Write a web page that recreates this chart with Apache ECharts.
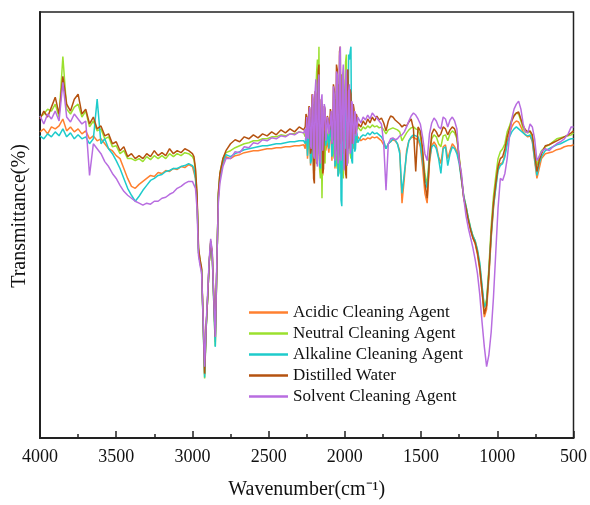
<!DOCTYPE html>
<html>
<head>
<meta charset="utf-8">
<script src="https://cdn.jsdelivr.net/npm/echarts@6/dist/echarts.min.js"></script>
<style>html,body{margin:0;padding:0;background:#fff}#c{width:590px;height:505px}</style>
</head>
<body>
<div id="c"></div>
<script>
var wavenumbers = [
4000,3975,3950,3925,3900,3875,3850,3825,3800,3775,3750,3725,3700,3675,3650,3625,3600,3575,3550,3525,3500,3475,3450,3425,3400,3375,3350,3325,3300,3275,3250,3225,3200,3175,3150,3125,3100,3075,3050,3025,3000,
2990,2980,2970,2960,2950,2940,2930,2920,2910,2900,2890,2880,2870,2860,2850,2840,2830,2820,2800,2780,
2750,2720,2690,2660,2630,2600,2570,2540,2510,2480,2450,2420,2390,2360,2330,2300,2270,
2260,2255,2250,2245,2240,2235,2230,2225,2220,2215,2210,2205,2200,2195,2190,2185,2180,2175,2170,2165,2160,2155,2150,2145,2140,2135,2130,2125,2120,2115,2110,2105,2100,2095,2090,2085,2080,2075,2070,2065,2060,2055,2050,2045,2040,2035,2030,2025,2020,2015,2010,2005,2000,1995,1990,1985,1980,1975,1970,1965,1960,1955,1950,1945,1940,1935,1930,1925,1920,1915,1910,
1895,1880,1865,1850,1835,1820,1805,1790,1775,1760,1745,1730,1715,1700,1685,1670,1655,1640,1625,1610,1595,1580,1565,1550,1535,1520,1505,1490,1475,1460,1445,1430,1415,1400,1385,1370,1355,1340,1325,1310,1295,1280,1265,
1250,1235,1220,1205,1190,1175,1160,1145,1130,1115,1100,1085,1070,1055,1040,1025,1010,995,980,965,950,935,920,905,890,875,860,845,830,815,800,785,770,755,740,725,710,685,660,635,610,585,560,535,515,500
];

var acidic = [
61.8,62.4,61.4,62.8,62.4,63.0,64.4,62.0,62.8,61.8,62.4,61.4,62.0,60.4,61.0,60.0,60.4,59.4,58.4,58.0,57.0,56.4,54.4,52.4,50.8,50.4,51.2,51.8,52.4,53.0,52.8,53.6,53.4,54.0,53.8,54.4,54.2,54.8,54.6,55.2,54.8,
54.4,52.4,48.4,37.4,35.4,34.0,24.0,12.8,22.4,28.4,35.4,39.4,37.0,28.0,19.4,34.4,48.4,52.4,55.4,56.8,
56.4,57.0,57.2,57.6,57.8,58.0,58.0,58.2,58.4,58.4,58.6,58.6,58.8,58.8,59.0,59.0,59.2,
58.4,60.6,60.0,56.4,56.8,62.0,61.2,55.0,55.4,64.4,63.4,53.4,54.0,67.0,66.4,55.4,56.0,69.0,68.4,54.0,54.4,65.0,64.4,53.0,53.4,61.0,60.4,58.0,58.4,60.0,59.6,57.6,58.0,62.0,61.4,56.0,56.4,65.4,64.4,54.4,54.8,69.4,68.4,53.0,53.4,70.4,69.4,54.0,54.4,67.4,66.4,56.0,56.4,71.0,70.4,55.0,55.4,68.0,67.4,58.0,58.4,64.0,63.4,58.4,58.8,62.0,61.4,59.6,60.0,60.8,60.4,
60.0,60.4,60.2,60.6,60.4,60.8,60.6,60.8,60.4,60.0,59.2,58.4,59.4,59.8,60.2,60.0,59.4,58.0,47.4,52.4,58.0,60.0,60.6,60.8,60.4,60.2,58.8,54.8,49.4,47.4,55.4,59.0,59.8,59.0,56.8,55.4,58.8,59.2,56.4,58.0,59.4,58.8,57.8,
56.0,52.4,48.4,46.4,44.0,42.0,40.4,39.2,37.0,34.0,29.4,24.4,26.0,32.4,40.4,46.4,50.8,54.4,55.4,55.6,57.2,59.8,61.4,62.8,63.6,64.0,63.8,62.8,61.8,61.2,60.8,61.0,59.8,56.0,52.4,54.4,56.4,57.4,57.6,57.8,58.2,58.4,58.8,59.0,59.0,59.2
];

var neutral = [
64.8,65.4,66.4,66.0,67.4,64.8,77.0,66.4,65.4,66.8,67.4,64.8,66.0,62.8,64.0,62.0,62.4,60.4,60.8,58.8,59.0,57.4,58.0,56.4,56.4,56.0,56.4,55.8,56.8,56.2,57.0,56.4,57.0,56.4,57.4,56.8,57.4,57.0,57.6,57.4,56.8,
56.2,54.0,49.0,38.0,36.0,34.0,23.4,12.0,22.0,28.4,35.4,39.4,36.8,27.4,18.6,34.4,49.4,53.4,56.4,57.6,
58.0,58.6,59.0,59.4,59.6,60.0,60.0,60.4,60.4,60.8,60.8,61.2,61.0,61.4,61.4,61.8,61.6,
60.8,61.6,62.8,59.0,58.4,64.0,64.8,57.0,56.0,66.4,67.4,55.0,54.0,68.8,70.4,74.0,76.4,60.0,79.0,54.0,52.4,62.0,48.4,60.0,64.4,56.4,55.4,63.0,62.4,59.6,60.4,62.8,62.0,60.0,60.8,63.8,64.4,57.4,56.4,67.4,68.4,55.4,54.4,70.4,71.4,54.4,53.4,72.4,73.4,53.4,52.4,69.4,70.4,76.0,77.4,56.4,55.4,67.4,68.4,57.4,56.4,64.4,65.4,60.4,59.4,62.4,63.4,61.8,61.4,62.8,62.4,
62.0,62.8,62.4,63.0,62.6,63.2,62.8,63.0,62.6,62.8,62.2,61.4,62.2,62.4,62.6,62.4,62.2,61.8,60.0,60.8,61.6,62.2,62.6,62.8,62.4,62.2,61.0,57.4,53.4,51.0,57.4,60.4,61.2,60.8,59.4,58.8,61.0,61.2,60.0,61.4,62.0,61.6,60.4,
56.8,52.8,48.8,46.8,44.4,42.4,40.8,39.8,37.8,34.8,30.4,26.4,28.0,34.4,42.8,48.8,52.8,56.4,57.8,58.4,59.4,61.8,63.0,64.4,65.2,65.6,65.4,64.0,62.4,61.8,61.6,61.8,60.8,57.8,55.0,56.8,58.0,58.8,59.2,59.8,60.4,60.6,60.8,61.0,61.2,61.6
];

var alkaline = [
61.0,60.4,61.4,60.8,61.8,61.0,62.4,60.8,61.6,60.4,61.2,60.4,60.8,59.4,60.4,68.4,59.4,60.4,58.4,57.4,56.0,54.4,52.4,50.4,49.0,47.8,48.8,50.0,51.0,52.0,52.4,53.0,53.2,53.8,54.0,54.4,54.4,54.8,55.0,55.4,55.0,
54.4,52.4,48.4,37.4,35.4,34.0,23.4,12.2,22.0,28.4,35.4,39.4,36.8,27.4,18.4,34.4,48.8,52.8,55.8,57.2,
56.8,57.4,57.8,58.2,58.4,58.6,58.8,59.0,59.0,59.2,59.4,59.4,59.6,59.8,59.8,60.0,60.0,
59.4,61.4,60.8,57.0,57.4,63.0,62.4,55.4,56.0,65.4,64.4,54.0,54.4,68.0,67.4,56.4,57.4,71.0,70.4,55.0,54.4,64.0,63.4,56.0,56.4,62.0,61.4,59.0,59.4,61.4,60.8,58.4,58.8,63.0,62.4,56.8,57.4,66.4,65.4,54.8,55.4,70.0,69.4,52.8,53.4,73.4,72.4,48.0,46.8,67.4,66.4,54.4,55.4,71.4,70.4,57.4,58.4,77.4,76.4,78.0,79.0,56.0,55.4,65.4,64.4,57.8,58.4,62.0,61.4,59.6,60.0,
60.8,61.2,61.0,61.6,61.2,61.8,61.4,61.6,61.2,60.8,60.0,58.4,59.4,59.8,60.4,60.2,59.4,57.4,49.4,53.4,57.4,60.0,60.8,61.2,61.0,60.8,59.4,56.0,52.4,50.4,56.4,58.8,59.2,58.4,56.4,53.4,58.4,58.8,55.0,57.4,58.8,58.4,57.4,
55.4,52.0,48.8,46.8,44.4,42.4,40.8,39.8,38.0,35.4,30.8,26.4,27.4,33.4,40.8,46.8,50.4,54.0,55.0,55.4,56.8,59.4,60.8,61.8,62.4,62.8,62.4,62.0,61.6,61.2,61.0,61.2,60.0,56.4,53.0,55.4,56.8,58.0,58.4,58.8,59.2,59.4,59.8,60.2,60.4,60.4
];

var distilled = [
64.4,66.0,64.8,66.8,68.8,65.4,73.0,67.4,66.0,68.4,69.4,65.4,66.4,63.4,64.8,62.4,63.0,61.0,61.4,59.4,59.8,58.0,58.8,56.8,57.4,56.4,57.0,56.4,57.4,56.8,58.0,57.0,57.6,57.0,58.4,57.4,58.0,57.6,58.4,58.0,57.4,
56.8,54.4,49.4,38.4,36.0,34.4,24.4,13.0,22.4,28.4,35.4,39.8,37.4,28.4,20.4,34.4,49.4,53.4,56.4,58.0,
59.4,60.2,59.8,60.8,60.4,61.2,60.6,61.4,61.0,61.8,61.2,62.2,61.6,62.4,61.8,62.8,62.2,
62.8,65.4,64.8,61.0,61.4,67.0,66.4,57.4,58.4,69.4,68.4,52.4,51.4,70.0,69.4,55.4,56.4,74.0,75.4,57.0,58.4,68.4,67.4,53.4,54.4,67.0,66.4,61.4,62.8,65.0,64.4,61.8,62.4,66.4,65.4,59.4,60.4,71.4,70.4,57.4,58.4,75.4,74.4,56.0,57.4,78.0,79.0,59.4,60.4,73.4,72.4,57.4,58.4,53.4,52.4,73.4,74.4,58.4,59.4,70.4,69.4,59.4,60.4,67.4,66.4,61.4,62.4,65.4,64.8,62.8,63.4,
62.8,64.0,63.2,64.4,63.6,64.8,64.0,65.0,64.2,64.6,63.6,62.0,64.0,65.0,64.8,64.2,63.8,63.4,62.8,63.2,63.0,63.8,64.4,62.4,53.8,62.8,62.0,58.4,51.4,48.4,56.4,61.4,62.4,61.8,60.8,61.4,62.8,62.4,61.2,62.2,62.8,62.4,60.8,
56.4,52.4,48.4,46.4,44.0,42.0,40.4,39.4,37.4,34.4,29.8,25.0,26.8,33.4,41.4,47.4,51.4,54.8,56.4,56.8,58.4,60.8,62.4,64.0,65.0,65.6,65.8,64.4,63.0,62.2,61.8,62.0,61.2,57.4,53.8,56.0,57.4,59.0,59.2,59.6,60.0,60.4,60.8,61.2,61.6,62.0
];

var solvent = [
65.0,63.4,65.4,64.4,66.0,64.0,71.8,64.8,63.8,65.4,64.4,63.4,64.0,53.0,59.4,58.4,57.4,55.8,54.8,53.4,52.4,51.0,49.8,49.0,48.4,47.8,47.4,47.0,47.4,47.2,47.8,47.8,48.4,48.6,49.2,49.6,50.4,50.8,51.4,51.8,51.8,
51.4,50.4,46.4,36.8,34.8,33.4,24.4,14.4,22.8,29.4,36.0,40.2,37.6,28.4,20.4,35.4,47.4,51.4,54.8,56.4,
56.4,57.8,57.6,58.8,58.6,59.6,59.4,60.2,60.0,60.6,60.4,61.0,60.8,61.4,61.2,61.8,61.6,
62.4,60.0,64.8,61.0,60.4,65.8,66.8,59.0,58.4,67.0,69.4,57.0,56.4,70.0,72.4,56.0,54.8,71.4,73.4,57.4,55.4,68.0,69.4,58.0,58.4,67.4,66.4,60.0,61.4,64.8,64.0,61.4,62.8,63.8,66.0,59.4,60.4,71.0,69.4,56.0,57.4,74.0,73.4,55.4,56.4,77.0,79.0,56.0,58.4,73.0,75.4,54.0,54.4,72.0,74.4,55.0,56.4,70.0,71.4,57.4,58.4,68.0,67.4,59.4,60.4,66.0,65.4,61.0,62.8,64.8,64.4,
63.6,64.8,64.2,65.2,64.4,65.6,65.0,64.6,64.0,63.4,59.4,50.0,59.4,60.4,60.6,60.2,60.4,61.0,61.2,61.8,62.8,64.0,65.0,65.6,65.2,64.4,63.4,60.8,57.4,56.0,61.4,63.6,64.6,64.0,62.8,62.4,64.8,64.4,62.8,64.2,64.8,64.0,62.4,
56.0,53.4,48.4,44.8,42.4,40.4,38.4,36.0,33.2,29.0,23.4,18.4,14.4,16.8,21.4,28.4,37.4,46.4,52.4,52.0,53.4,56.4,60.8,64.4,66.4,67.4,68.0,66.4,63.4,61.8,61.6,63.4,62.8,60.4,56.0,56.8,57.8,58.4,58.0,58.8,59.4,59.8,60.4,61.4,62.8,62.8
];

var seriesNames = ['Acidic Cleaning Agent','Neutral Cleaning Agent','Alkaline Cleaning Agent','Distilled Water','Solvent Cleaning Agent'];
var seriesValues = [acidic, neutral, alkaline, distilled, solvent];
var seriesColors = ['#FF8030','#9BE02E','#1ECBCB','#B5520F','#B86DE0'];
var xTicks = [4000,3500,3000,2500,2000,1500,1000,500];

var serif = 'Liberation Serif, Times New Roman, serif';
var chart = echarts.init(document.getElementById('c'), null, {renderer:'canvas'});
chart.setOption({
  animation: false,
  backgroundColor: '#fff',
  grid: {left: 40, right: 15, top: 12, bottom: 63, show: true, borderColor: '#222', borderWidth: 1.5, backgroundColor: 'transparent'},
  legend: {
    orient: 'vertical', left: 249, top: 304, padding: 0, itemGap: 4, itemWidth: 39, itemHeight: 2.5, icon: 'rect',
    textStyle: {fontFamily: serif, fontSize: 17, color: '#111'},
    data: seriesNames
  },
  xAxis: {
    type: 'value', inverse: true, min: 500, max: 4000, interval: 500,
    name: 'Wavenumber(cm\u207B\u00B9)', nameLocation: 'middle', nameGap: 42,
    nameTextStyle: {fontFamily: serif, fontSize: 20, color: '#111'},
    axisLine: {show: true, lineStyle: {color: '#222', width: 2}},
    axisTick: {show: true, inside: true, length: 7, lineStyle: {color: '#222', width: 1.5}},
    minorTick: {show: true, splitNumber: 2, length: 4, lineStyle: {color: '#222', width: 1.5}},
    axisLabel: {fontFamily: serif, fontSize: 18, color: '#111', margin: 10,
      formatter: function(v){ return xTicks.indexOf(v) >= 0 ? String(v) : ''; }},
    splitLine: {show: false}
  },
  yAxis: {
    type: 'value', min: 0, max: 86,
    name: 'Transmittance(%)', nameLocation: 'middle', nameGap: 10,
    nameTextStyle: {fontFamily: serif, fontSize: 20, color: '#111', padding: [0, 0, 0, 18]},
    axisLine: {show: true, lineStyle: {color: '#222', width: 2}},
    axisTick: {show: false}, axisLabel: {show: false}, splitLine: {show: false}
  },
  series: seriesNames.map(function(n, i){
    return {
      name: n, type: 'line', showSymbol: false, symbol: 'none',
      color: seriesColors[i],
      lineStyle: {width: 1.5, color: seriesColors[i]},
      data: wavenumbers.map(function(w, j){ return [w, seriesValues[i][j]]; })
    };
  })
});
</script>
</body>
</html>
